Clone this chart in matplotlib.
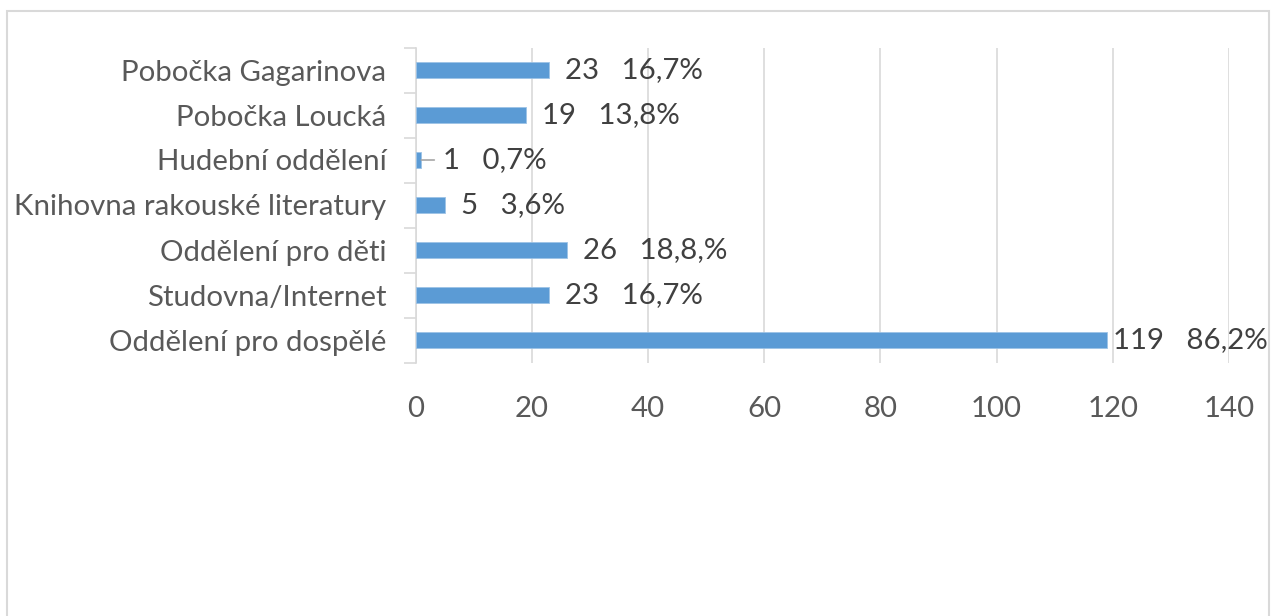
import matplotlib
matplotlib.use("Agg")
import matplotlib.pyplot as plt
from matplotlib.patches import Rectangle
import numpy as np

categories = ["Oddělení pro dospělé", "Studovna/Internet", "Oddělení pro děti",
              "Knihovna rakouské literatury", "Hudební oddělení",
              "Pobočka Loucká", "Pobočka Gagarinova"]
values = [119, 23, 26, 5, 1, 19, 23]
percents = ["86,2%", "16,7%", "18,8,%", "3,6%", "0,7%", "13,8%", "16,7%"]
xticks = [0, 20, 40, 60, 80, 100, 120, 140]

plt.rcParams['font.family'] = ['Lato', 'DejaVu Sans']
W, H = 1272, 616
fs = 21.2
fig = plt.figure(figsize=(W/100, H/100), dpi=100)
ax = fig.add_axes([415.5/W, 1-362.5/H, (1229-415.5)/W, (362.5-47.5)/H])

grid_c = "#D9D9D9"
bar_c = "#5B9BD5"
ypos = np.arange(len(categories))
ax.barh(ypos, values, height=0.36, color=bar_c, edgecolor="#9DC3E6", linewidth=0.6, zorder=3)

ax.set_xlim(0, 140)
ax.set_ylim(-0.5, len(categories)-0.5)
ax.set_xticks(xticks)
ax.set_xticklabels([str(t) for t in xticks])
ax.xaxis.grid(True, color=grid_c, linewidth=1.2, zorder=0)
ax.set_yticks(ypos)
ax.set_yticklabels(categories)
ax.set_yticks(np.arange(-0.5, len(categories), 1), minor=True)
ax.tick_params(axis='y', which='major', length=0, pad=21, labelsize=fs, labelcolor="#595959")
ax.tick_params(axis='y', which='minor', length=9, width=1.2, color=grid_c)
ax.tick_params(axis='x', length=0, pad=24, labelsize=fs, labelcolor="#595959")
for s in ["top", "right", "bottom"]:
    ax.spines[s].set_visible(False)
ax.spines["left"].set_color(grid_c)
ax.spines["left"].set_linewidth(1.2)

for i, (v, p) in enumerate(zip(values, percents)):
    off = 16
    if v <= 2:
        off = 22
        ax.annotate("", xy=(v, i), xytext=(13, 0), textcoords="offset pixels",
                    arrowprops=dict(arrowstyle="-", color="#A6A6A6", lw=1.2,
                                    shrinkA=0, shrinkB=0), zorder=4)
    elif v > 110:
        off = 6
    ax.annotate(f"{v}   {p}", xy=(v, i), xytext=(off, 0), textcoords="offset pixels",
                ha="left", va="center", fontsize=fs, color="#404040", zorder=5)

fig.patches.append(Rectangle((6.5/W, -0.05), (1269-6.5)/W, 1.05-10.5/H,
                             transform=fig.transFigure, fill=False,
                             edgecolor=grid_c, linewidth=1.5))
fig.savefig("out.png", dpi=100, facecolor="white")
